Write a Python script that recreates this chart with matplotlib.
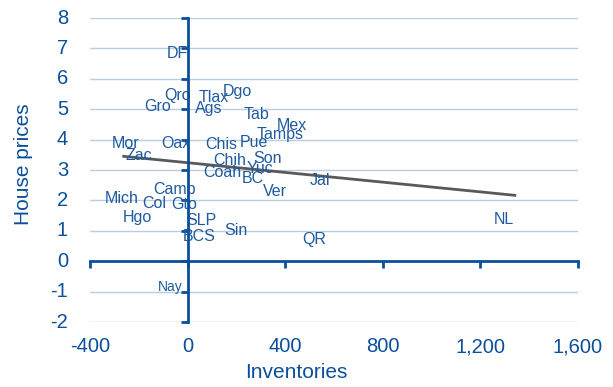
import numpy as np
import matplotlib.pyplot as plt
import matplotlib.transforms as mtransforms

plt.rcParams['font.family'] = ['Liberation Sans', 'DejaVu Sans']

# State labels and their positions (inventories, house prices)
states = ["DF", "Qro", "Tlax", "Dgo", "Gro", "Ags", "Tab", "Mex", "Tamps",
          "Mor", "Oax", "Chis", "Pue", "Zac", "Chih", "Son", "Yuc", "Coah",
          "BC", "Ver", "Camp", "Mich", "Col", "Gto", "Hgo", "SLP", "BCS",
          "Sin", "QR", "Jal", "NL", "Nay"]
inventories = [-41, -41, 107, 205, -123, 86, 283, 426, 381,
               -254, -49, 139, 271, -201, 172, 328, 295, 144,
               267, 357, -53, -271, -135, -12, -205, 57, 49,
               197, 517, 541, 1296, -70]
house_prices = [6.84, 5.46, 5.39, 5.59, 5.10, 5.03, 4.84, 4.47, 4.18,
                3.88, 3.88, 3.85, 3.91, 3.49, 3.32, 3.39, 3.06, 2.93,
                2.73, 2.30, 2.37, 2.07, 1.91, 1.88, 1.45, 1.35, 0.82,
                1.02, 0.72, 2.66, 1.38, -0.86]

# Linear trend
trend_x = [-262, 1341]
trend_slope = -0.0008
trend_intercept = 3.24

xticks = [-400, 0, 400, 800, 1200, 1600]
xtick_labels = ["-400", "0", "400", "800", "1,200", "1,600"]
yticks = list(range(-2, 9))

blue = "#0b4f9c"
text_blue = "#1f5aa0"
grid_col = "#b9cde3"

fig = plt.figure(figsize=(6.13, 3.87), dpi=100)
ax = fig.add_axes([90 / 613, 1 - 322 / 387, (578 - 90) / 613, (322 - 18) / 387])
ax.set_xlim(-400, 1600)
ax.set_ylim(-2, 8)

for y in yticks:
    ax.axhline(y, color=grid_col, lw=1.0, zorder=0)

tx = np.array(trend_x)
ax.plot(tx, trend_intercept + trend_slope * tx, color="#595959", lw=2, zorder=2)

for name, x, y in zip(states, inventories, house_prices):
    fs = 10 if name == "Nay" else 11.5
    ax.text(x, y, name, ha="center", va="center", color=text_blue,
            fontsize=fs, zorder=3)

# axes through zero
for side in ["top", "right"]:
    ax.spines[side].set_visible(False)
ax.spines["left"].set_position(("data", 0))
ax.spines["bottom"].set_position(("data", 0))
for side in ["left", "bottom"]:
    ax.spines[side].set_color(blue)
    ax.spines[side].set_linewidth(2)
    ax.spines[side].set_zorder(4)
ax.set_xticks(xticks)
ax.set_yticks(yticks)
ax.tick_params(axis="both", direction="out", length=5, width=2, color=blue,
               labelleft=False, labelbottom=False)

# tick labels at the plot edges
trans_y = mtransforms.blended_transform_factory(ax.transAxes, ax.transData)
for y in yticks:
    ax.text(-0.045, y, str(y), transform=trans_y, ha="right", va="center",
            fontsize=14.5, color=blue)
trans_x = mtransforms.blended_transform_factory(ax.transData, ax.transAxes)
for x, lab in zip(xticks, xtick_labels):
    ax.text(x, -0.05, lab, transform=trans_x, ha="center", va="top",
            fontsize=14.5, color=blue)

fig.text(296 / 613, 1 - 372 / 387, "Inventories", ha="center", va="center",
         fontsize=15, color=blue)
fig.text(24 / 613, 1 - 164 / 387, "House prices", ha="center", va="center",
         rotation=90, fontsize=15, color=blue)

fig.savefig("out.png", dpi=100)
